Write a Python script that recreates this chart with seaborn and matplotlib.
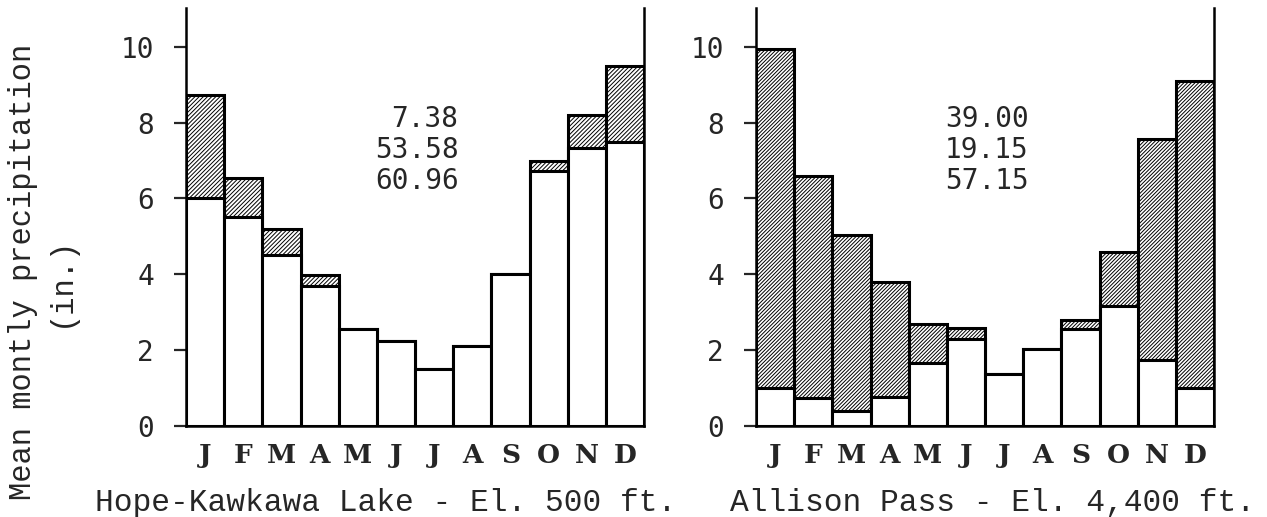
"""Mean monthly precipitation, rain vs snow, at two stations."""

import matplotlib
matplotlib.use("Agg")
import matplotlib.pyplot as plt
import pandas as pd
import seaborn as sns

months = ["Jan", "Feb", "Mar", "Apr", "May", "Jun",
          "Jul", "Aug", "Sep", "Oct", "Nov", "Dec"]
month_initials = ["J", "F", "M", "A", "M", "J", "J", "A", "S", "O", "N", "D"]

# rain (white) and snow water (hatched), inches
hope_rain = [6.0, 5.5, 4.5, 3.7, 2.55, 2.25, 1.5, 2.12, 4.0, 6.72, 7.32, 7.5]
hope_snow = [2.72, 1.05, 0.7, 0.27, 0.0, 0.0, 0.0, 0.0, 0.0, 0.26, 0.88, 1.98]
allison_rain = [1.0, 0.73, 0.4, 0.76, 1.67, 2.3, 1.37, 2.04, 2.57, 3.17, 1.74, 1.0]
allison_snow = [8.94, 5.87, 4.63, 3.04, 1.01, 0.29, 0.0, 0.0, 0.23, 1.42, 5.83, 8.1]

hope_totals = ["7.38", "53.58", "60.96"]
allison_totals = ["39.00", "19.15", "57.15"]

y_ticks = [0, 2, 4, 6, 8, 10]

MONO = ["Liberation Mono", "DejaVu Sans Mono"]
SANS_MONO = ["DejaVu Sans Mono"]
SERIF = ["DejaVu Serif"]

sns.set_style("ticks")
plt.rcParams["font.family"] = MONO
plt.rcParams["hatch.linewidth"] = 0.7


def draw_panel(ax, rain, snow, totals, hatch):
    df = pd.DataFrame({"month": months, "rain": rain, "snow": snow})
    df["total"] = df["rain"] + df["snow"]

    bar_kws = dict(x="month", color="white", saturation=1, width=1.0,
                   edgecolor="black", linewidth=2.2, errorbar=None, ax=ax)
    sns.barplot(data=df, y="total", hatch=hatch, **bar_kws)
    sns.barplot(data=df, y="rain", **bar_kws)

    ax.set_ylim(0, 11.02)
    ax.set_xlim(-0.5, 11.5)
    ax.set_yticks(y_ticks)
    ax.set_yticklabels([str(t) for t in y_ticks], family=SANS_MONO, fontsize=20)
    ax.set_xticks(range(len(months)))
    ax.set_xticklabels(month_initials, family=SERIF, fontsize=19,
                       fontweight="bold")
    ax.tick_params(axis="y", length=9, width=1.6, pad=14)
    ax.tick_params(axis="x", length=0, pad=12)
    ax.set_xlabel("")
    ax.set_ylabel("")

    ax.spines["top"].set_visible(False)
    ax.spines["right"].set_visible(True)
    for side in ("left", "right", "bottom"):
        ax.spines[side].set_linewidth(1.8)
        ax.spines[side].set_color("black")

    ax.text(0.595, 0.66, "\n".join(totals), transform=ax.transAxes,
            ha="right", va="center", multialignment="right",
            family=SANS_MONO, fontsize=20, linespacing=1.12)


fig = plt.figure(figsize=(12.67, 5.17), dpi=100)
ax_hope = fig.add_axes([0.1468, 0.176, 0.3615, 0.8085])
ax_allison = fig.add_axes([0.5967, 0.176, 0.3615, 0.8085])

draw_panel(ax_hope, hope_rain, hope_snow, hope_totals, "/" * 8)
draw_panel(ax_allison, allison_rain, allison_snow, allison_totals, "/" * 9)

fig.text(0.075, 0.012, "Hope-Kawkawa Lake - El. 500 ft.", ha="left",
         va="baseline", fontsize=22.5)
fig.text(0.576, 0.012, "Allison Pass - El. 4,400 ft.", ha="left",
         va="baseline", fontsize=22.5)

fig.text(0.018, 0.475, "Mean montly precipitation", rotation=90,
         ha="center", va="center", fontsize=22)
fig.text(0.048, 0.455, "(in.)", rotation=90, ha="center", va="center",
         fontsize=22)

fig.savefig("out.png", dpi=100, facecolor="white")
plt.close(fig)
